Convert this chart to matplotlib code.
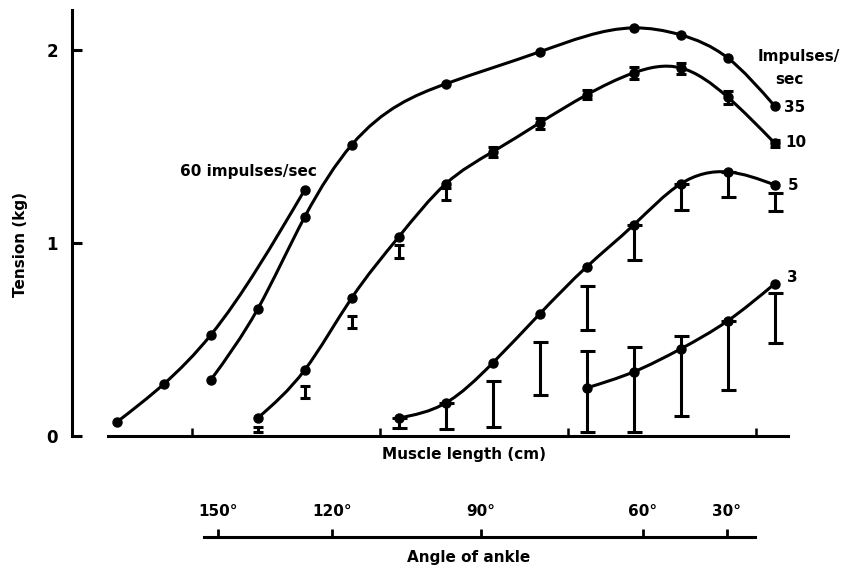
import numpy as np
import matplotlib
matplotlib.use("Agg")
import matplotlib.pyplot as plt
from matplotlib.path import Path
from matplotlib.patches import PathPatch

plt.rcParams['font.family'] = ['DejaVu Sans']
plt.rcParams['font.weight'] = 'bold'

# muscle length (cm, relative) and tension (kg) for each stimulation rate
x60 = [0.6, 0.85, 1.1, 1.6]
t60 = [0.072, 0.269, 0.523, 1.275]

x35 = [1.1, 1.35, 1.6, 1.85, 2.35, 2.85, 3.35, 3.6, 3.85, 4.1]
t35 = [0.290, 0.658, 1.135, 1.508, 1.824, 1.990, 2.114, 2.078, 1.959, 1.710]

x10 = [1.35, 1.6, 1.85, 2.1, 2.35, 2.6, 2.85, 3.1, 3.35, 3.6, 3.85, 4.1]
t10 = [0.093, 0.342, 0.715, 1.031, 1.306, 1.472, 1.622, 1.767, 1.881, 1.907, 1.756, 1.518]
lo10 = [0.020, 0.197, 0.560, 0.922, 1.223, 1.446, 1.590, 1.746, 1.850, 1.876, 1.720, 1.497]
hi10 = [0.047, 0.259, 0.622, 0.990, 1.285, 1.497, 1.648, 1.793, 1.912, 1.933, 1.788, 1.534]

x5 = [2.1, 2.35, 2.6, 2.85, 3.1, 3.35, 3.6, 3.85, 4.1]
t5 = [0.093, 0.171, 0.378, 0.632, 0.876, 1.093, 1.306, 1.368, 1.301]
lo5 = [0.041, 0.036, 0.047, 0.212, 0.549, 0.912, 1.171, 1.238, 1.166]
hi5 = [0.093, 0.171, 0.285, 0.487, 0.777, 1.093, 1.306, 1.368, 1.259]

x3 = [3.1, 3.35, 3.6, 3.85, 4.1]
t3 = [0.249, 0.332, 0.451, 0.596, 0.788]
lo3 = [0.021, 0.021, 0.104, 0.238, 0.482]
hi3 = [0.440, 0.461, 0.518, 0.596, 0.741]

# ankle angle scale, positions in the same length units
ankle_deg = [150, 120, 90, 60, 30]
ankle_pos = [1.138, 1.745, 2.537, 3.399, 3.846]

LW = 2.2


def smooth_path(x, y):
    # natural cubic spline through the points, written out as Bezier segments
    x = np.asarray(x, float)
    y = np.asarray(y, float)
    n = len(x)
    h = np.diff(x)
    A = np.zeros((n, n))
    b = np.zeros(n)
    A[0, 0] = A[-1, -1] = 1
    for i in range(1, n - 1):
        A[i, i - 1] = h[i - 1]
        A[i, i] = 2 * (h[i - 1] + h[i])
        A[i, i + 1] = h[i]
        b[i] = 6 * ((y[i + 1] - y[i]) / h[i] - (y[i] - y[i - 1]) / h[i - 1])
    M = np.linalg.solve(A, b)
    m = np.empty(n)
    for i in range(n - 1):
        m[i] = (y[i + 1] - y[i]) / h[i] - h[i] * (2 * M[i] + M[i + 1]) / 6
    m[-1] = (y[-1] - y[-2]) / h[-1] + h[-1] * (M[-2] + 2 * M[-1]) / 6

    verts = [(x[0], y[0])]
    codes = [Path.MOVETO]
    for i in range(n - 1):
        d = h[i] / 3
        verts += [(x[i] + d, y[i] + m[i] * d),
                  (x[i + 1] - d, y[i + 1] - m[i + 1] * d),
                  (x[i + 1], y[i + 1])]
        codes += [Path.CURVE4] * 3
    return Path(verts, codes)


def draw_curve(ax, x, t):
    ax.add_patch(PathPatch(smooth_path(x, t), fill=False, lw=LW, color='black',
                           capstyle='round', joinstyle='round', clip_on=False))
    ax.plot(x, t, 'o', color='black', ms=6.5, clip_on=False)


def draw_bars(ax, x, lo, hi, cap):
    lo = np.array(lo)
    hi = np.array(hi)
    ax.errorbar(x, (lo + hi) / 2, yerr=(hi - lo) / 2, fmt='none', ecolor='black',
                elinewidth=2.2, capsize=cap, capthick=2.2, clip_on=False)


fig = plt.figure(figsize=(8.47, 5.66), dpi=100)
ax = fig.add_axes([0.085, 0.2297, 0.845, 0.7527])
ax.set_xlim(0.3617, 4.170)
ax.set_ylim(0, 2.207)

for s in ['top', 'right']:
    ax.spines[s].set_visible(False)
ax.spines['left'].set_linewidth(2.2)
ax.spines['bottom'].set_linewidth(2.2)
ax.spines['bottom'].set_bounds(0.553, 4.170)

ax.set_yticks([0, 1, 2])
ax.set_yticklabels(['0', '1', '2'], fontsize=12, fontweight='bold')
ax.set_xticks([1, 2, 3, 4])
ax.set_xticklabels([])
ax.tick_params(axis='y', direction='in', length=7, width=2.2, pad=10)
ax.tick_params(axis='x', direction='in', length=6, width=1.8)

draw_curve(ax, x60, t60)
draw_curve(ax, x35, t35)
draw_curve(ax, x10, t10)
draw_bars(ax, x10, lo10, hi10, 3.5)
draw_curve(ax, x5, t5)
draw_bars(ax, x5, lo5, hi5, 5.4)
draw_curve(ax, x3, t3)
draw_bars(ax, x3, lo3, hi3, 5.4)

txt = dict(fontsize=11, fontweight='bold', clip_on=False)
ax.text(1.298, 1.37, '60 impulses/sec', ha='center', va='center', **txt)
ax.text(4.23, 1.965, 'Impulses/', ha='center', va='center', **txt)
ax.text(4.18, 1.845, 'sec', ha='center', va='center', **txt)
ax.text(4.152, 1.70, '35', ha='left', va='center', **txt)
ax.text(4.157, 1.518, '10', ha='left', va='center', **txt)
ax.text(4.168, 1.30, '5', ha='left', va='center', **txt)
ax.text(4.168, 0.819, '3', ha='left', va='center', **txt)
ax.text(2.447, -0.098, 'Muscle length (cm)', ha='center', va='center', **txt)
ax.text(0.09, 0.99, 'Tension (kg)', ha='center', va='center', rotation=90, **txt)

# ankle angle scale drawn as a separate axis below
ax2 = fig.add_axes([0.085, 0.0512, 0.845, 0.0001])
ax2.set_xlim(0.3617, 4.170)
for s in ['bottom', 'left', 'right']:
    ax2.spines[s].set_visible(False)
ax2.spines['top'].set_linewidth(2.2)
ax2.spines['top'].set_bounds(1.064, 3.995)
ax2.set_yticks([])
ax2.xaxis.tick_top()
ax2.set_xticks(ankle_pos)
ax2.set_xticklabels([f'{d}\u00b0' for d in ankle_deg], fontsize=11, fontweight='bold')
ax2.tick_params(axis='x', direction='out', length=6, width=2, pad=7)
fig.text(0.5537, 0.0159, 'Angle of ankle', ha='center', va='center',
         fontsize=11, fontweight='bold')

fig.savefig('out.png', dpi=100)
